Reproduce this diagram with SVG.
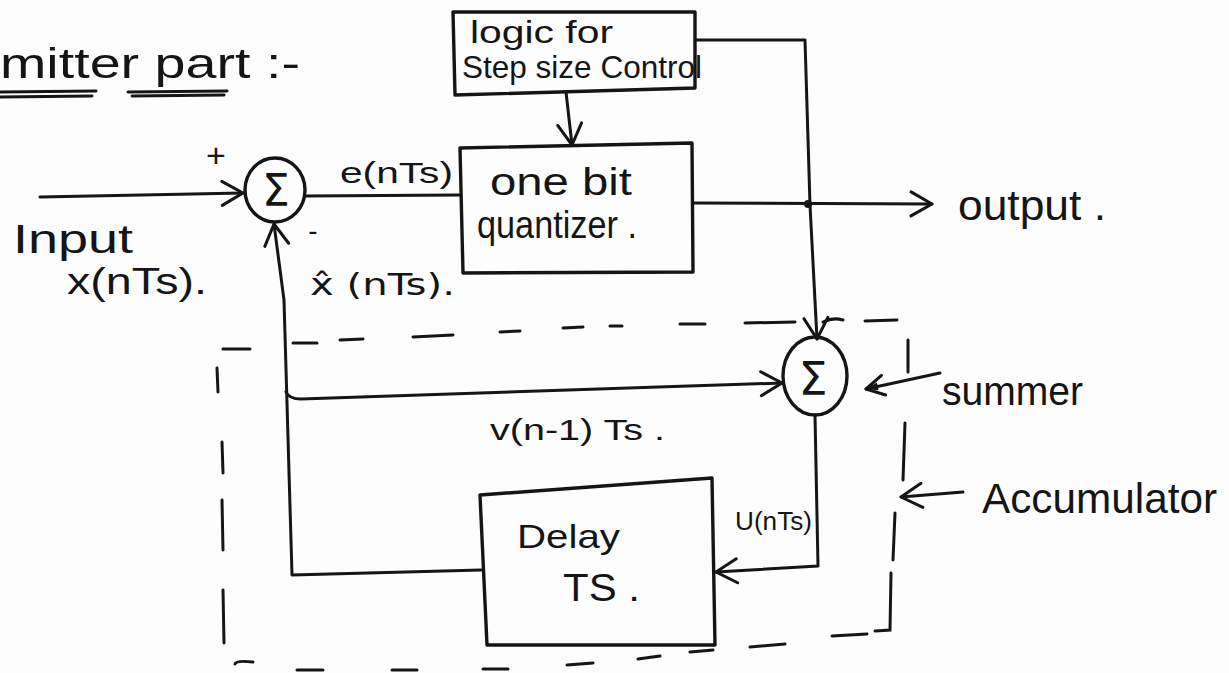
<svg xmlns="http://www.w3.org/2000/svg" width="1229" height="673" viewBox="0 0 1229 673">
  <style>
    .ink { fill: none; stroke: #151515; stroke-width: 3; stroke-linecap: round; stroke-linejoin: round; }
    .box { fill: none; stroke: #151515; stroke-width: 3.4; stroke-linejoin: round; }
    .dash { fill: none; stroke: #151515; stroke-width: 3; stroke-linecap: round; }
    .txt { font-family: "Liberation Sans", "DejaVu Sans", sans-serif; fill: #151515; }
    .sig { font-family: "DejaVu Sans", "Liberation Sans", sans-serif; fill: #151515; }
  </style>
  <defs>
    <!-- open hand-drawn chevron head -->
    <marker id="chev" viewBox="-26 -16 30 32" refX="0" refY="0" markerWidth="30" markerHeight="32" markerUnits="userSpaceOnUse" orient="auto">
      <path d="M-21,-12 L0,0 L-21,12" fill="none" stroke="#151515" stroke-width="3" stroke-linecap="round" stroke-linejoin="round"/>
    </marker>
    <!-- bold pointer head for annotation arrows -->
    <marker id="pointer" viewBox="-24 -14 28 28" refX="0" refY="0" markerWidth="28" markerHeight="28" markerUnits="userSpaceOnUse" orient="auto">
      <path d="M-18,-10 L0,0 L-18,10" fill="none" stroke="#151515" stroke-width="3" stroke-linecap="round" stroke-linejoin="round"/>
      <path d="M-12,-4 L0,0 L-12,4 Z" fill="#151515"/>
    </marker>
  </defs>

  <rect width="1229" height="673" fill="#fdfdfd"/>

  <!-- heading -->
  <g id="heading">
    <text class="txt" x="0" y="78" font-size="42" textLength="300" lengthAdjust="spacingAndGlyphs">mitter part :-</text>
    <path class="ink" d="M0,92 L96,91 M0,97 L92,96 M128,92 L227,91 M132,96 L224,95" stroke-width="2.5"/>
  </g>

  <!-- accumulator boundary (dashed) -->
  <g id="accumulator-boundary">
    <path class="dash" d="M223,349 L250,349 M293,343 L317,343 M340,340 L363,339 M413,337 L453,335 M500,332 L520,331 M563,328 L583,327 M610,326 L622,326 M680,324 L705,324 M745,323 L795,322 M823,322 Q833,317 843,320 M865,321 L897,320"/>
    <path class="dash" d="M908,340 L908,372 M905,423 L903,480 M895,513 L893,560 M891,573 L890,630 L875,631"/>
    <path class="dash" d="M867,634 L832,636 M785,644 L750,647 M713,650 L690,652 M660,656 L638,659 M593,663 L567,665 M508,669 L483,669 M417,670 L392,670 M323,670 L297,670 M253,662 Q236,660 235,664"/>
    <path class="dash" d="M217,368 L218,392 M222,442 L223,473 M222,500 L223,550 M223,590 L224,643"/>
  </g>

  <!-- connectors -->
  <g id="connectors">
    <path class="ink" d="M40,197 L243,193" marker-end="url(#chev)"/>
    <path class="ink" d="M305,196 L460,195"/>
    <path class="ink" d="M566,92 L572,145" marker-end="url(#chev)"/>
    <path class="ink" d="M693,203 L932,204" marker-end="url(#chev)"/>
    <path class="ink" d="M695,40 L805,40 L810,205 L817,339" marker-end="url(#chev)"/>
    <circle cx="808" cy="204" r="4" fill="#151515"/>
    <path class="ink" d="M815,415 L818,566 L716,572" marker-end="url(#chev)"/>
    <path class="ink" d="M481,570 L292,575 L284,300 L274,224" marker-end="url(#chev)"/>
    <path class="ink" d="M286,392 Q289,399 301,399 L782,383" marker-end="url(#chev)"/>
    <path class="ink" d="M940,373 L866,389" marker-end="url(#pointer)"/>
    <path class="ink" d="M963,492 L901,497" marker-end="url(#chev)"/>
  </g>

  <!-- summing junction at the input -->
  <g id="summer-input">
    <ellipse class="box" cx="275" cy="190" rx="30" ry="32"/>
    <text class="sig" x="276" y="206" font-size="44" text-anchor="middle">Σ</text>
    <text class="txt" x="216" y="167" font-size="34" text-anchor="middle">+</text>
    <text class="txt" x="313" y="240" font-size="28" text-anchor="middle">-</text>
  </g>

  <!-- step size logic -->
  <g id="step-size-logic">
    <path class="box" d="M453,12 L695,12 L695,88 L455,95 Z"/>
    <text class="txt" x="470" y="43" font-size="32" textLength="143" lengthAdjust="spacingAndGlyphs">logic for</text>
    <text class="txt" x="462" y="78" font-size="32" textLength="240" lengthAdjust="spacingAndGlyphs">Step size Control</text>
  </g>

  <!-- one bit quantizer -->
  <g id="quantizer">
    <path class="box" d="M460,148 L692,143 L693,272 L463,273 Z"/>
    <text class="txt" x="490" y="195" font-size="38" textLength="142" lengthAdjust="spacingAndGlyphs">one bit</text>
    <text class="txt" x="477" y="238" font-size="38" textLength="160" lengthAdjust="spacingAndGlyphs">quantizer .</text>
  </g>

  <!-- accumulator summer -->
  <g id="summer-accumulator">
    <ellipse class="box" cx="815" cy="376" rx="32" ry="39"/>
    <text class="sig" x="813" y="395" font-size="46" text-anchor="middle">Σ</text>
  </g>

  <!-- delay element -->
  <g id="delay">
    <path class="box" d="M480,495 L712,478 L715,645 L487,645 Z"/>
    <text class="txt" x="517" y="548" font-size="34" textLength="103" lengthAdjust="spacingAndGlyphs">Delay</text>
    <text class="txt" x="563" y="601" font-size="38" textLength="77" lengthAdjust="spacingAndGlyphs">TS .</text>
  </g>

  <!-- signal labels -->
  <g id="labels">
    <text class="txt" x="13" y="253" font-size="40" textLength="120" lengthAdjust="spacingAndGlyphs">Input</text>
    <text class="txt" x="67" y="294" font-size="36" textLength="140" lengthAdjust="spacingAndGlyphs">x(nTs).</text>
    <text class="txt" x="340" y="183" font-size="30" textLength="113" lengthAdjust="spacingAndGlyphs">e(nTs)</text>
    <text class="sig" x="310" y="295" font-size="30" textLength="145" lengthAdjust="spacingAndGlyphs">x̂ (nTs).</text>
    <text class="txt" x="958" y="220" font-size="42" textLength="148" lengthAdjust="spacingAndGlyphs">output .</text>
    <text class="txt" x="490" y="440" font-size="30" textLength="175" lengthAdjust="spacingAndGlyphs">v(n-1) Ts .</text>
    <text class="txt" x="735" y="530" font-size="26" textLength="77" lengthAdjust="spacingAndGlyphs">U(nTs)</text>
    <text class="txt" x="942" y="405" font-size="40" textLength="141" lengthAdjust="spacingAndGlyphs">summer</text>
    <text class="txt" x="982" y="513" font-size="42" textLength="235" lengthAdjust="spacingAndGlyphs">Accumulator</text>
  </g>
</svg>
